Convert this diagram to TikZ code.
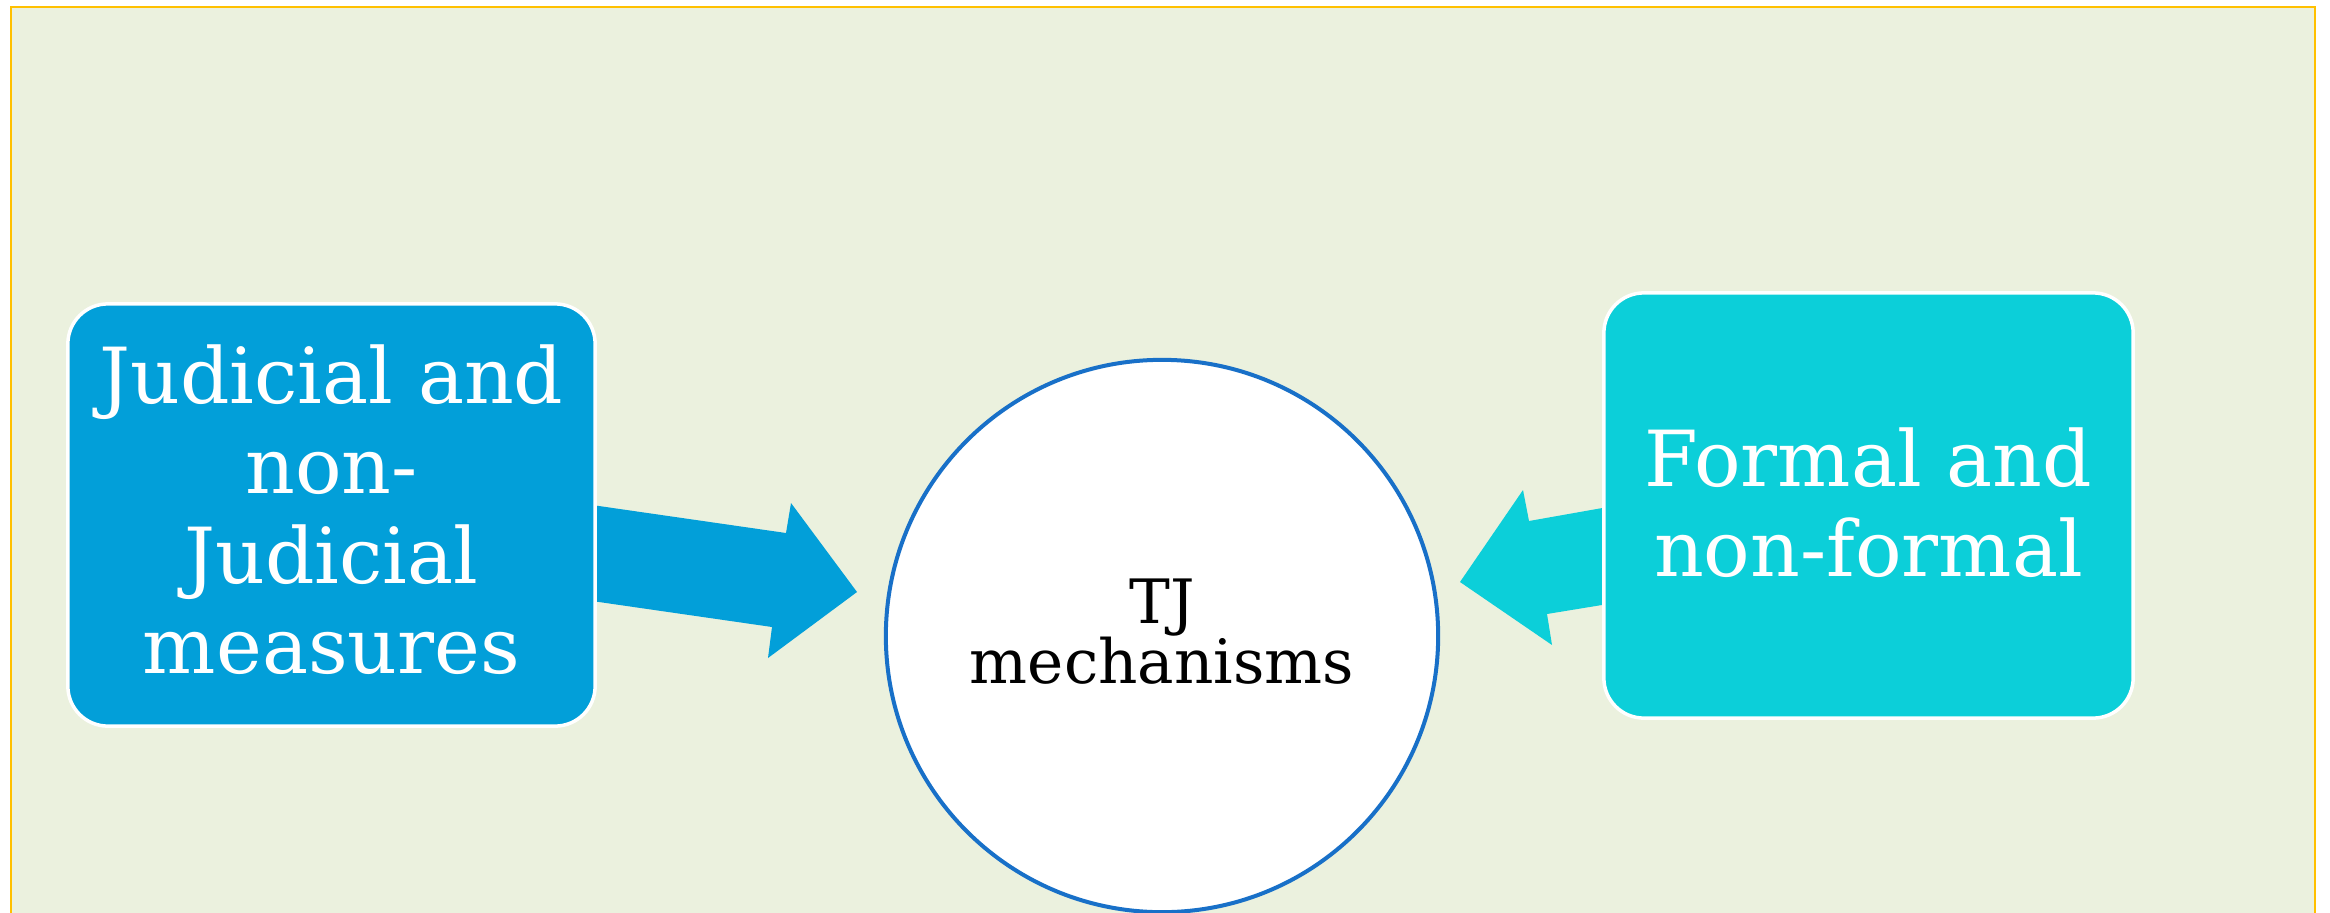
\documentclass[tikz,border=0pt]{standalone}
\usepackage{fontspec}
\setmainfont{DejaVu Serif}
\definecolor{bgc}{RGB}{235,241,222}
\definecolor{framec}{RGB}{255,192,0}
\definecolor{boxa}{RGB}{2,159,217}
\definecolor{boxb}{RGB}{12,207,217}
\definecolor{circc}{RGB}{24,112,200}
\newcommand{\mytightlines}{\lineskiplimit=-30pt\lineskip=0pt\relax}
\tikzset{
  blockbox/.style={draw=white, line width=0.035cm, rounded corners=0.4cm, inner sep=0pt},
  boxtext/.style={text=white, align=center, inner sep=0pt,
    font=\fontsize{22}{25.6}\selectfont},
  hubcircle/.style={circle, draw=circc, fill=white, line width=0.04cm, inner sep=0pt,
    minimum size=5.52cm},
  hubtext/.style={text=black, align=center, inner sep=0pt,
    font=\fontsize{17.4}{17}\selectfont\mytightlines},
}
\begin{document}
\begin{tikzpicture}[x=0.01cm,y=-0.01cm]
\useasboundingbox (0,0) rectangle (2330,912);
\clip (0,0) rectangle (2330,912);
\fill[bgc] (11,7) rectangle (2315,930);
\draw[framec, line width=0.02cm] (11,930) -- (11,7) -- (2315,7) -- (2315,930);
% block arrows
\fill[boxa] (592,505) -- (786,533) -- (791,503) -- (857,592) -- (768,658) -- (772,627) -- (592,601) -- cycle;
\fill[boxb] (1608,507) -- (1529,521) -- (1523,490) -- (1460,582) -- (1552,645) -- (1547,614) -- (1608,604) -- cycle;
% boxes
\node[blockbox, fill=boxa, minimum width=5.27cm, minimum height=4.22cm] (L) at (331.5,515) {};
\node[boxtext] (Lt) at ([yshift=0.055cm]L.center) {Judicial and\\non-\\Judicial\\measures};
\node[blockbox, fill=boxb, minimum width=5.29cm, minimum height=4.25cm] (R) at (1868.5,505.5) {};
\node[boxtext] (Rt) at ([yshift=0.03cm]R.center) {Formal and\\non-formal};
\node[hubcircle] (C) at (1162,636) {};
\node[hubtext] (Ct) at ([yshift=0.04cm]C.center) {TJ\\mechanisms};
\end{tikzpicture}
\end{document}
